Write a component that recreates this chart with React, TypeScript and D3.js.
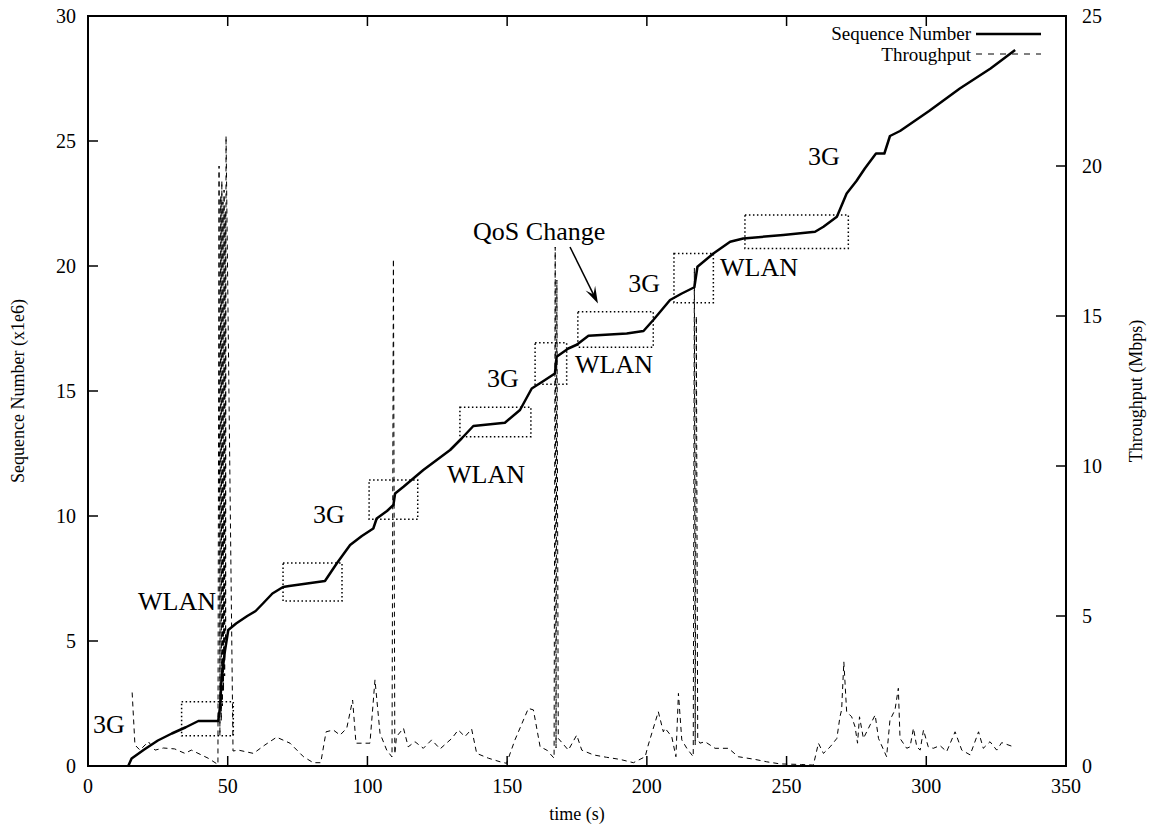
import React, { useEffect, useRef } from 'react';
import * as d3 from 'd3';

// sequence number (x1e6) against time (s)
const seqTime = [14.4, 15.6, 20, 25, 30, 35, 39.5, 46.6, 47.3, 47.8, 49, 50.2, 53, 57, 60, 62.6, 66, 69.8, 72, 84.8, 89, 93.8, 98, 102.1, 103.3, 107, 109.3, 109.9, 112.9, 120, 129.6, 133.7, 137.9, 149.2, 154.6, 158.8, 163, 167.1, 167.7, 171.9, 174.9, 179.1, 192.8, 198.8, 202.3, 208.3, 212.5, 217, 218.1, 223.8, 229.8, 234.5, 248.8, 260.2, 263.2, 268, 271.5, 275, 278, 282, 285, 287, 290.6, 301, 312, 323, 331.8];
const seqValue = [0, 0.3, 0.65, 1.02, 1.3, 1.55, 1.8, 1.8, 2.4, 3.5, 4.6, 5.44, 5.7, 6.0, 6.2, 6.5, 6.9, 7.16, 7.2, 7.4, 8.1, 8.84, 9.2, 9.5, 9.9, 10.2, 10.44, 10.9, 11.17, 11.84, 12.64, 13.1, 13.6, 13.73, 14.24, 15.1, 15.4, 15.7, 16.37, 16.7, 16.85, 17.21, 17.3, 17.4, 17.84, 18.64, 18.9, 19.15, 19.97, 20.5, 20.97, 21.1, 21.24, 21.37, 21.57, 21.97, 22.9, 23.4, 23.9, 24.5, 24.5, 25.2, 25.4, 26.2, 27.1, 27.9, 28.64];

// throughput (Mbps) against time (s)
const tputTime = [15.8, 16.8, 18.6, 21.6, 24, 27, 31, 34.7, 37, 43, 46.5, 46.9, 47.2, 47.5, 47.7, 47.9, 48.1, 48.3, 48.5, 48.7, 48.9, 49.1, 49.25, 49.4, 51.9, 53.8, 59.2, 63.3, 67.5, 72.3, 77.1, 80.6, 83.3, 85.2, 87.8, 90.2, 92.6, 94.7, 95.9, 100.9, 102.7, 104.5, 106.9, 108.8, 109.3, 109.8, 110.4, 112.9, 114.6, 117, 120, 123, 126, 130.2, 132.5, 134.9, 137.3, 139.1, 143.3, 147.5, 149.8, 152.8, 157.6, 159.4, 161.8, 164.2, 166.8, 167.2, 167.5, 167.8, 168.3, 171.9, 174.9, 176.7, 180.9, 185.6, 190.4, 195.2, 199.4, 200.5, 204.1, 205.9, 206.5, 208.9, 210.4, 211.3, 212.5, 214.3, 216.6, 217.0, 217.3, 217.7, 218.2, 219, 220.8, 224.4, 229.2, 232.7, 238.7, 242.9, 247.7, 255.4, 259.6, 261.4, 263.2, 265.6, 268, 269.1, 269.7, 270.5, 271.5, 273.3, 274.5, 275.4, 276.1, 277.5, 279.9, 281.7, 282.9, 285.8, 287, 288.8, 290, 290.6, 293, 294.2, 295.4, 296.6, 297.8, 299, 300.7, 302.5, 304.9, 307.3, 310.3, 312.7, 315.7, 318.7, 320.4, 322.8, 325.2, 327, 331.2];
const tputValue = [2.45, 0.7, 0.53, 0.81, 0.53, 0.6, 0.57, 0.42, 0.53, 0.26, 0.05, 20.0, 1.0, 19.0, 1.5, 19.5, 2.0, 18.8, 2.5, 19.2, 3.0, 18.5, 4.0, 21.0, 0.5, 0.53, 0.42, 0.7, 0.96, 0.76, 0.31, 0.11, 0.11, 1.14, 1.2, 1.03, 1.26, 2.2, 0.76, 0.76, 2.87, 1.09, 0.53, 0.3, 16.9, 0.4, 0.98, 1.26, 0.64, 0.81, 0.59, 0.87, 0.57, 0.92, 1.2, 0.98, 1.23, 0.42, 0.26, 0.14, 0.09, 0.87, 1.92, 1.87, 0.64, 0.53, 0.26, 17.3, 0.6, 16.2, 0.92, 0.53, 1.03, 0.53, 0.37, 0.29, 0.22, 0.11, 0.31, 0.7, 1.81, 1.14, 1.26, 0.98, 0.31, 2.42, 0.87, 0.59, 0.31, 16.6, 0.7, 15.0, 0.9, 0.76, 0.81, 0.59, 0.59, 0.31, 0.22, 0.14, 0.07, 0.05, 0.03, 0.76, 0.42, 0.64, 0.92, 1.64, 1.87, 3.47, 1.81, 1.64, 1.31, 0.76, 1.64, 0.92, 1.37, 1.7, 0.92, 0.31, 1.53, 1.87, 2.59, 0.92, 0.59, 0.64, 1.26, 0.64, 0.53, 1.2, 0.64, 0.59, 0.68, 0.48, 1.14, 0.53, 0.37, 1.14, 0.59, 0.81, 0.53, 0.78, 0.64];

// dotted handover boxes: [t0, t1, seqLow, seqHigh]
const boxes = [
  [33.5, 52, 1.21, 2.57],
  [69.8, 90.9, 6.6, 8.12],
  [100.6, 118, 9.87, 11.44],
  [133.1, 158.5, 13.17, 14.35],
  [160, 171.3, 15.27, 16.93],
  [175.3, 202.3, 16.75, 18.17],
  [209.7, 223.8, 18.53, 20.5],
  [235.1, 272.1, 20.7, 22.04],
];

// network labels: [text, t, seq]
const labels: [string, number, number][] = [
  ['3G', 1.8, 1.32],
  ['WLAN', 17.9, 6.24],
  ['3G', 80.5, 9.72],
  ['WLAN', 128.5, 11.32],
  ['3G', 142.8, 15.16],
  ['WLAN', 174.3, 15.72],
  ['3G', 193.3, 18.96],
  ['WLAN', 226.2, 19.6],
  ['3G', 257.7, 24.04],
  ['QoS Change', 137.8, 21.04],
];
const arrowFrom = [172.5, 20.76];
const arrowTo = [182.5, 18.5];

const xTicks = [0, 50, 100, 150, 200, 250, 300, 350];
const yTicks = [0, 5, 10, 15, 20, 25, 30];
const y2Ticks = [0, 5, 10, 15, 20, 25];

const W = 1149;
const H = 829;
const FONT = '"Liberation Serif", "Times New Roman", serif';

const App = () => {
  const svgRef = useRef<SVGSVGElement>(null);

  useEffect(() => {
    const svg = d3.select(svgRef.current);
    svg.selectAll('*').remove();

    const left = 88, right = 1066, top = 16, bottom = 766;
    const x = d3.scaleLinear().domain([0, 350]).range([left, right]);
    const y = d3.scaleLinear().domain([0, 30]).range([bottom, top]);
    const y2 = d3.scaleLinear().domain([0, 25]).range([bottom, top]);

    // ticks (gnuplot style, inward)
    const tk = svg.append('g').attr('stroke', '#000').attr('stroke-width', 1.5);
    xTicks.forEach(t => {
      tk.append('line').attr('x1', x(t)).attr('x2', x(t)).attr('y1', bottom).attr('y2', bottom - 10);
      tk.append('line').attr('x1', x(t)).attr('x2', x(t)).attr('y1', top).attr('y2', top + 10);
    });
    yTicks.forEach(v => {
      tk.append('line').attr('x1', left).attr('x2', left + 10).attr('y1', y(v)).attr('y2', y(v));
    });
    y2Ticks.forEach(v => {
      tk.append('line').attr('x1', right).attr('x2', right - 10).attr('y1', y2(v)).attr('y2', y2(v));
    });

    const txt = svg.append('g').attr('font-family', FONT).attr('fill', '#000');
    xTicks.forEach(t => {
      txt.append('text').attr('x', x(t)).attr('y', bottom + 27).attr('text-anchor', 'middle')
        .attr('font-size', 20).text(t);
    });
    yTicks.forEach(v => {
      txt.append('text').attr('x', left - 12).attr('y', y(v) + 7).attr('text-anchor', 'end')
        .attr('font-size', 20).text(v);
    });
    y2Ticks.forEach(v => {
      txt.append('text').attr('x', right + 16).attr('y', y2(v) + 7).attr('text-anchor', 'start')
        .attr('font-size', 20).text(v);
    });

    txt.append('text').attr('x', (left + right) / 2).attr('y', 820).attr('text-anchor', 'middle')
      .attr('font-size', 18).text('time (s)');
    txt.append('text').attr('transform', `translate(24, ${(top + bottom) / 2}) rotate(-90)`)
      .attr('text-anchor', 'middle').attr('font-size', 18).text('Sequence Number (x1e6)');
    txt.append('text').attr('transform', `translate(1142, ${(top + bottom) / 2}) rotate(-90)`)
      .attr('text-anchor', 'middle').attr('font-size', 18).text('Throughput (Mbps)');

    // throughput (dashed, right axis)
    const tputLine = d3.line<number>()
      .x((_, i) => x(tputTime[i]))
      .y(d => y2(d));
    svg.append('path').datum(tputValue).attr('d', tputLine).attr('fill', 'none')
      .attr('stroke', '#000').attr('stroke-width', 1).attr('stroke-dasharray', '5,4');

    // boxes
    svg.append('g').selectAll('rect').data(boxes).join('rect')
      .attr('x', d => x(d[0])).attr('y', d => y(d[3]))
      .attr('width', d => x(d[1]) - x(d[0])).attr('height', d => y(d[2]) - y(d[3]))
      .attr('fill', 'none').attr('stroke', '#000').attr('stroke-width', 1.5)
      .attr('stroke-dasharray', '1.5,2.5');

    // sequence number (solid, left axis)
    const seqLine = d3.line<number>()
      .x((_, i) => x(seqTime[i]))
      .y(d => y(d));
    svg.append('path').datum(seqValue).attr('d', seqLine).attr('fill', 'none')
      .attr('stroke', '#000').attr('stroke-width', 2.5).attr('stroke-linejoin', 'round');

    // labels
    labels.forEach(([s, t, v]) => {
      txt.append('text').attr('x', x(t)).attr('y', y(v)).attr('font-size', 26).text(s);
    });

    // arrow
    const ax1 = x(arrowFrom[0]), ay1 = y(arrowFrom[1]);
    const ax2 = x(arrowTo[0]), ay2 = y(arrowTo[1]);
    const ang = Math.atan2(ay2 - ay1, ax2 - ax1);
    const hl = 18, hw = 0.3;
    svg.append('line').attr('x1', ax1).attr('y1', ay1).attr('x2', ax2 - 8 * Math.cos(ang)).attr('y2', ay2 - 8 * Math.sin(ang))
      .attr('stroke', '#000').attr('stroke-width', 1.5);
    svg.append('path')
      .attr('d', `M${ax2},${ay2} L${ax2 - hl * Math.cos(ang - hw)},${ay2 - hl * Math.sin(ang - hw)} L${ax2 - 10 * Math.cos(ang)},${ay2 - 10 * Math.sin(ang)} L${ax2 - hl * Math.cos(ang + hw)},${ay2 - hl * Math.sin(ang + hw)} Z`)
      .attr('fill', '#000');

    // legend
    txt.append('text').attr('x', 971).attr('y', 40).attr('text-anchor', 'end').attr('font-size', 19).text('Sequence Number');
    txt.append('text').attr('x', 971).attr('y', 61).attr('text-anchor', 'end').attr('font-size', 19).text('Throughput');
    svg.append('line').attr('x1', 976).attr('x2', 1041).attr('y1', 34).attr('y2', 34)
      .attr('stroke', '#000').attr('stroke-width', 2.5);
    svg.append('line').attr('x1', 976).attr('x2', 1041).attr('y1', 54).attr('y2', 54)
      .attr('stroke', '#000').attr('stroke-width', 1).attr('stroke-dasharray', '6,6');

    // border
    svg.append('rect').attr('x', left).attr('y', top).attr('width', right - left).attr('height', bottom - top)
      .attr('fill', 'none').attr('stroke', '#000').attr('stroke-width', 2);
  }, []);

  return (
    <div style={{ position: 'fixed', left: 0, top: 0 }}>
      <svg ref={svgRef} width={W} height={H} style={{ display: 'block', background: '#fff' }} />
    </div>
  );
};

export default App;
